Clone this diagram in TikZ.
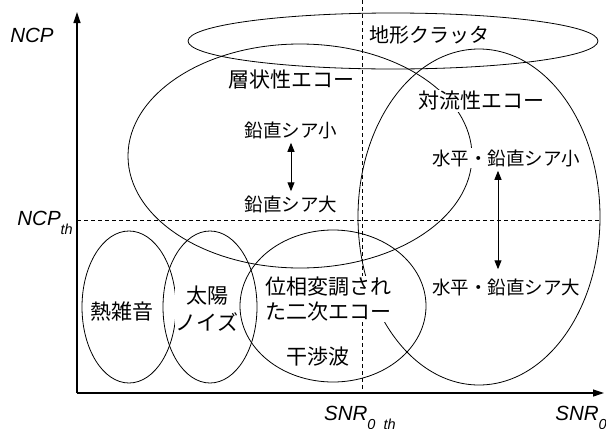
\documentclass[tikz,border=0pt]{standalone}
\usepackage{fontspec}
\setmainfont{Liberation Sans}
\newfontfamily\jp{Noto Sans CJK JP}
\usetikzlibrary{shapes.geometric,arrows.meta}
\newcommand\lowsub[1]{\raisebox{-9.5pt}{\fontsize{14.5}{16}\selectfont #1}}
\begin{document}
\begin{tikzpicture}[x=1pt,y=-1pt,
  ell/.style={draw, ellipse, line width=0.8pt, inner sep=0pt},
  lbl/.style={font=\jp\fontsize{21}{25}\selectfont, fill=white, inner sep=1pt},
  sml/.style={font=\jp\fontsize{18.5}{22}\selectfont, fill=white, inner sep=1pt},
  axlbl/.style={font=\fontsize{20.5}{24}\selectfont\itshape, inner sep=0pt},
  axisline/.style={line width=1.2pt, -{Triangle[length=11pt,width=7pt]}},
  guide/.style={line width=0.7pt, dash pattern=on 4pt off 3pt},
  dbl/.style={line width=1pt, {Triangle[length=9pt,width=7pt]}-{Triangle[length=9pt,width=7pt]}}
]
\useasboundingbox (0,0) rectangle (606,429);
\fill[white] (0,0) rectangle (606,429);

% ellipses
\node[ell, minimum width=410pt, minimum height=56pt] (clutter) at (393,41) {};
\node[ell, minimum width=344pt, minimum height=224pt] (strat) at (300,156) {};
\node[ell, minimum width=242pt, minimum height=336pt] (conv) at (479,217) {};
\node[ell, minimum width=186pt, minimum height=152pt] (phase) at (333,306) {};
\node[ell, minimum width=94pt, minimum height=152pt] (thermal) at (129,307) {};
\node[ell, minimum width=94pt, minimum height=152pt] (solar) at (210,307) {};

% guide lines
\coordinate (O) at (77,393);
\coordinate (Ytop) at (77,12);
\coordinate (Xend) at (604,393);
\coordinate (H1) at (77,220);
\coordinate (H2) at (600,220);
\coordinate (V1) at (362,0);
\coordinate (V2) at (362,393);
\draw[guide] (H1) -- (H2);
\draw[guide] (V1) -- (V2);

% axes
\draw[axisline] (O) -- (Ytop);
\draw[axisline] (O) -- (Xend);

% labels
\node[lbl, font=\jp\fontsize{20}{24}\selectfont] (clutterT) at (429,35) {地形クラッタ};
\node[lbl] (stratT) at (291,80) {層状性エコー};
\node[sml] (vsmall) at (291,130) {鉛直シア小};
\node[sml] (vlarge) at (291,204) {鉛直シア大};
\node[lbl] (convT) at (481,101) {対流性エコー};
\node[sml] (hvsmall) at (506,158) {水平・鉛直シア小};
\node[sml] (hvlarge) at (506,287) {水平・鉛直シア大};
\node[lbl] (thermT) at (122,311) {熱雑音};
\node[lbl, align=center, font=\jp\fontsize{21}{27}\selectfont] (solarT) at (207,309) {太陽\\ノイズ};
\node[lbl, align=left, anchor=west] (phaseT) at (264,299) {位相変調され\\た二次エコー};
\node[lbl] (interf) at (318,357) {干渉波};

\draw[dbl] ([yshift=-3pt]vsmall.south) -- ([yshift=3pt]vlarge.north);
\draw[dbl] ([xshift=-8pt,yshift=-3pt]hvsmall.south) -- ([xshift=-8pt,yshift=8pt]hvlarge.north);

\node[axlbl, anchor=base] (ncp) at (32,42) {NCP};
\node[axlbl, anchor=base east] (ncpth) at (73,225) {NCP\lowsub{th}};
\node[axlbl, anchor=base west] (snrth) at (324,420) {SNR\lowsub{0\_th}};
\node[axlbl, anchor=base east] (snr) at (607,420) {SNR\lowsub{0}};
\end{tikzpicture}
\end{document}
